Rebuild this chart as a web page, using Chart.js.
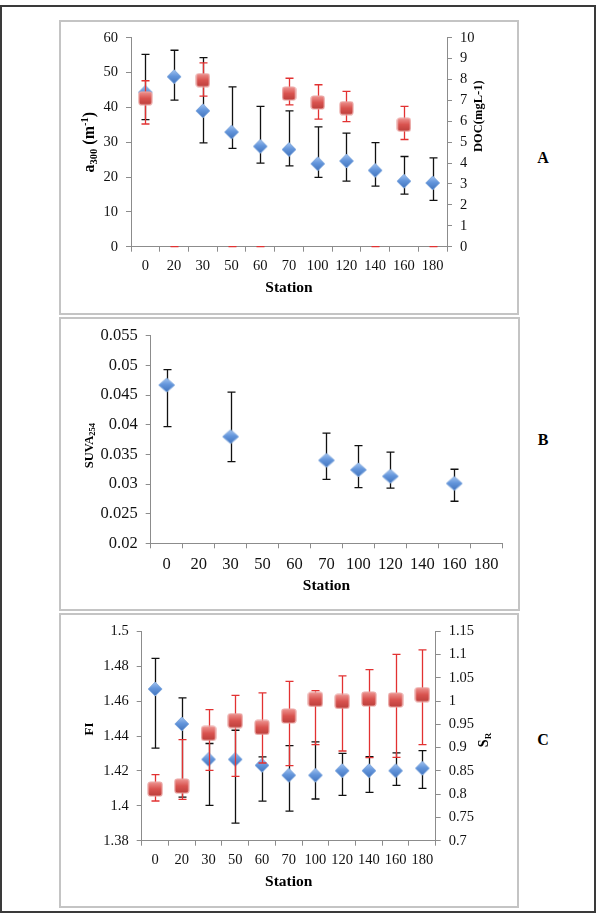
<!DOCTYPE html>
<html>
<head>
<meta charset="utf-8">
<script src="https://cdn.jsdelivr.net/npm/chart.js@4.4.1/dist/chart.umd.min.js"></script>
<style>
    body { margin: 0; background: #fff; width: 597px; height: 918px; position: relative; overflow: hidden; font-family: "Liberation Serif", serif; }
    .outer { position: absolute; left: 0; top: 5px; width: 596px; height: 908px; border: 2px solid #3a3a3a; box-sizing: border-box; }
    .panel { position: absolute; border: 2px solid #c4c4c4; box-sizing: border-box; }
    canvas { position: absolute; }
    .tag { position: absolute; font-weight: bold; font-size: 16px; transform: translate(-50%, -50%); color: #000; }
</style>
</head>
<body>
<div class="outer"></div>
<div class="panel" style="left:59px;top:20px;width:460px;height:295px"></div>
<div class="panel" style="left:59px;top:317px;width:461px;height:294px"></div>
<div class="panel" style="left:59px;top:613px;width:460px;height:295px"></div>
<canvas id="chartA" width="458" height="293" style="left:60px;top:21px"></canvas>
<canvas id="chartB" width="459" height="292" style="left:60px;top:318px"></canvas>
<canvas id="chartC" width="458" height="294" style="left:60px;top:614px"></canvas>
<div class="tag" style="left:543px;top:158px">A</div>
<div class="tag" style="left:543px;top:440px">B</div>
<div class="tag" style="left:543px;top:740px">C</div>

<script>
// station labels shared by all three panels
const stations = ["0", "20", "30", "50", "60", "70", "100", "120", "140", "160", "180"];

// Panel A: a300 (left axis) and DOC (right axis)
const a300     = [44.3, 48.8, 39.0, 32.9, 28.8, 27.9, 23.8, 24.6, 21.9, 18.8, 18.3];
const a300Low  = [36.5, 42.1, 29.8, 28.2, 24.0, 23.2, 19.9, 18.8, 17.4, 15.1, 13.3];
const a300High = [55.2, 56.4, 54.3, 45.9, 40.3, 39.0, 34.4, 32.6, 29.9, 25.9, 25.5];
const doc      = [7.1, 0, 7.97, 0, 0, 7.33, 6.9, 6.63, 0, 5.84, 0];
const docLow   = [5.87, 0, 7.2, 0, 0, 6.79, 6.1, 5.98, 0, 5.13, 0];
const docHigh  = [7.94, 0, 8.8, 0, 0, 8.06, 7.75, 7.43, 0, 6.71, 0];
const a300Ticks = [0, 10, 20, 30, 40, 50, 60];
const docTicks  = [0, 1, 2, 3, 4, 5, 6, 7, 8, 9, 10];

// Panel B: SUVA254
const suva     = [0.0467, null, 0.0380, null, null, 0.0340, 0.0324, 0.0313, null, 0.0301, null];
const suvaLow  = [0.0397, null, 0.0338, null, null, 0.0308, 0.0294, 0.0293, null, 0.0271, null];
const suvaHigh = [0.0493, null, 0.0455, null, null, 0.0386, 0.0365, 0.0354, null, 0.0325, null];
const suvaTicks = [0.02, 0.025, 0.03, 0.035, 0.04, 0.045, 0.05, 0.055];

// Panel C: FI (left axis) and SR (right axis)
const fi       = [1.4669, 1.4469, 1.4266, 1.4266, 1.4232, 1.4175, 1.4175, 1.4201, 1.4201, 1.4201, 1.4215];
const fiLow    = [1.4331, 1.4050, 1.4003, 1.3901, 1.4027, 1.3970, 1.4039, 1.4060, 1.4077, 1.4117, 1.4100];
const fiHigh   = [1.4845, 1.4618, 1.4357, 1.4433, 1.4280, 1.4345, 1.4366, 1.4301, 1.4282, 1.4303, 1.4316];
const sr       = [0.811, 0.8175, 0.9307, 0.958, 0.9436, 0.968, 1.0038, 0.9995, 1.0045, 1.0024, 1.0139];
const srLow    = [0.7853, 0.7889, 0.8512, 0.8383, 0.867, 0.8612, 0.9064, 0.8928, 0.8784, 0.8792, 0.9064];
const srHigh   = [0.8419, 0.9171, 0.9816, 1.0124, 1.0175, 1.0425, 1.0225, 1.054, 1.0676, 1.1006, 1.1099];
const fiTicks = [1.38, 1.4, 1.42, 1.44, 1.46, 1.48, 1.5];
const srTicks = [0.7, 0.75, 0.8, 0.85, 0.9, 0.95, 1, 1.05, 1.1, 1.15];

const serif = '"Liberation Serif", serif';
const axisColor = "#8c8c8c";

// excel-like shaded markers
function diamondImg(w, h) {
    const c = document.createElement("canvas");
    c.width = w + 2; c.height = h + 2;
    const g = c.getContext("2d");
    const cx = c.width / 2, cy = c.height / 2;
    g.beginPath();
    g.moveTo(cx, 1); g.lineTo(c.width - 1, cy); g.lineTo(cx, c.height - 1); g.lineTo(1, cy);
    g.closePath();
    const grad = g.createLinearGradient(0, 0, 0, c.height);
    grad.addColorStop(0, "#aecbf1");
    grad.addColorStop(0.45, "#6496dc");
    grad.addColorStop(1, "#3d6fb8");
    g.fillStyle = grad;
    g.fill();
    g.strokeStyle = "#86acdf";
    g.lineWidth = 1;
    g.stroke();
    return c;
}

function squareImg(s) {
    const c = document.createElement("canvas");
    c.width = s + 2; c.height = s + 2;
    const g = c.getContext("2d");
    g.beginPath();
    g.roundRect(1, 1, s, s, 2.5);
    const grad = g.createLinearGradient(0, 0, 0, c.height);
    grad.addColorStop(0, "#f19c99");
    grad.addColorStop(0.5, "#d9534f");
    grad.addColorStop(1, "#b83c39");
    g.fillStyle = grad;
    g.fill();
    g.strokeStyle = "#eaa5a3";
    g.lineWidth = 1.2;
    g.stroke();
    return c;
}

// error bars drawn through the dataset's own y scale
const errorBars = {
    id: "errorBars",
    beforeDatasetDraw(chart, args) {
        const ds = chart.data.datasets[args.index];
        if (!ds.errLow) return;
        const meta = args.meta;
        const ys = chart.scales[meta.yAxisID];
        const g = chart.ctx;
        g.save();
        g.strokeStyle = ds.barColor;
        g.lineWidth = 1.3;
        meta.data.forEach((pt, i) => {
            if (ds.data[i] == null) return;
            const x = Math.round(pt.x) + 0.5;
            const y1 = ys.getPixelForValue(ds.errLow[i]);
            const y2 = ys.getPixelForValue(ds.errHigh[i]);
            g.beginPath();
            g.moveTo(x, y1); g.lineTo(x, y2);
            g.moveTo(x - 4, y1); g.lineTo(x + 4, y1);
            g.moveTo(x - 4, y2); g.lineTo(x + 4, y2);
            g.stroke();
        });
        g.restore();
    }
};

// axis titles with sub/superscripts
function richTitles(items) {
    return {
        id: "richTitles",
        afterDraw(chart) {
            const g = chart.ctx, a = chart.chartArea;
            items.forEach(it => {
                let x, y;
                if (it.side === "bottom") { x = (a.left + a.right) / 2; y = a.bottom + it.off; }
                else if (it.side === "left") { x = a.left - it.off; y = (a.top + a.bottom) / 2 + (it.dy || 0); }
                else { x = a.right + it.off; y = (a.top + a.bottom) / 2 + (it.dy || 0); }
                g.save();
                g.translate(x, y);
                if (it.side !== "bottom") g.rotate(-Math.PI / 2);
                g.fillStyle = "#000";
                g.textBaseline = "middle";
                g.textAlign = "left";
                let total = 0;
                const parts = it.parts.map(p => {
                    const font = `${p.bold === false ? "" : "bold "}${p.size}px ${serif}`;
                    g.font = font;
                    const w = g.measureText(p.text).width;
                    total += w;
                    return { text: p.text, font, w, shift: p.shift || 0 };
                });
                let cx = -total / 2;
                parts.forEach(p => {
                    g.font = p.font;
                    g.fillText(p.text, cx, p.shift);
                    cx += p.w;
                });
                g.restore();
            });
        }
    };
}

function yAxis(pos, ticks, width, fontSize) {
    return {
        position: pos,
        min: ticks[0],
        max: ticks[ticks.length - 1],
        afterBuildTicks: s => { s.ticks = ticks.map(v => ({ value: v })); },
        afterFit: s => { s.width = width; },
        border: { display: true, color: axisColor, width: 1 },
        grid: { drawOnChartArea: false, drawTicks: true, tickLength: 5, color: axisColor },
        ticks: {
            padding: 8,
            color: "#111",
            font: { family: serif, size: fontSize },
            callback: v => String(+v.toFixed(3))
        }
    };
}

function xAxis(height, fontSize) {
    return {
        type: "category",
        offset: true,
        afterFit: s => { s.height = height; },
        border: { display: true, color: axisColor, width: 1 },
        grid: { offset: true, drawOnChartArea: false, drawTicks: true, tickLength: 5, color: axisColor },
        ticks: {
            padding: 6,
            color: "#111",
            maxRotation: 0,
            autoSkip: false,
            font: { family: serif, size: fontSize }
        }
    };
}

function markerSet(data, low, high, yId, img, barColor, order) {
    return {
        data,
        yAxisID: yId,
        errLow: low,
        errHigh: high,
        barColor,
        order,
        showLine: false,
        pointStyle: img,
        pointRadius: ctx => (ctx.raw === 0 ? 0 : 7),
        pointHoverRadius: 7
    };
}

const baseOpts = {
    responsive: false,
    animation: false,
    events: [],
    plugins: { legend: { display: false }, tooltip: { enabled: false } }
};

const diamond = diamondImg(14, 14);
const diamondWide = diamondImg(16, 14);
const square = squareImg(13);

// Panel A
new Chart(document.getElementById("chartA"), {
    type: "line",
    data: {
        labels: stations,
        datasets: [
            markerSet(a300, a300Low, a300High, "y", diamond, "#111", 2),
            markerSet(doc, docLow, docHigh, "y2", square, "#e23232", 1)
        ]
    },
    options: {
        ...baseOpts,
        layout: { padding: { top: 15.7, bottom: 0, left: 0, right: 0 } },
        scales: {
            x: xAxis(67.3, 14.5),
            y: yAxis("left", a300Ticks, 71, 14.5),
            y2: yAxis("right", docTicks, 71, 14.5)
        }
    },
    plugins: [errorBars, richTitles([
        { side: "bottom", off: 41, parts: [{ text: "Station", size: 15.5 }] },
        { side: "left", off: 40.7, parts: [
            { text: "a", size: 16 }, { text: "300", size: 10.5, shift: 4 },
            { text: " (m", size: 16 }, { text: "-1", size: 10.5, shift: -5 }, { text: ")", size: 16 }
        ] },
        { side: "right", off: 32, dy: -26, parts: [{ text: "DOC(mgL-1)", size: 12.5 }] }
    ])]
});

// Panel B
new Chart(document.getElementById("chartB"), {
    type: "line",
    data: {
        labels: stations,
        datasets: [markerSet(suva, suvaLow, suvaHigh, "y", diamondWide, "#111", 1)]
    },
    options: {
        ...baseOpts,
        layout: { padding: { top: 16, bottom: 0, left: 0, right: 16.8 } },
        scales: {
            x: xAxis(66.7, 16.5),
            y: yAxis("left", suvaTicks, 90.7, 16.5)
        }
    },
    plugins: [errorBars, richTitles([
        { side: "bottom", off: 42.8, parts: [{ text: "Station", size: 15.5 }] },
        { side: "left", off: 61.4, dy: 6, parts: [
            { text: "SUVA", size: 12.5 }, { text: "254", size: 8.5, shift: 3 }
        ] }
    ])]
});

// Panel C
new Chart(document.getElementById("chartC"), {
    type: "line",
    data: {
        labels: stations,
        datasets: [
            markerSet(fi, fiLow, fiHigh, "y", diamond, "#111", 2),
            markerSet(sr, srLow, srHigh, "y2", squareImg(14), "#e23232", 1)
        ]
    },
    options: {
        ...baseOpts,
        layout: { padding: { top: 17.3, bottom: 0, left: 0, right: 0 } },
        scales: {
            x: xAxis(67.3, 14.5),
            y: yAxis("left", fiTicks, 81.7, 14.5),
            y2: yAxis("right", srTicks, 82.3, 14.5)
        }
    },
    plugins: [errorBars, richTitles([
        { side: "bottom", off: 41, parts: [{ text: "Station", size: 15.5 }] },
        { side: "left", off: 51.7, dy: -7, parts: [{ text: "FI", size: 13 }] },
        { side: "right", off: 49, dy: 4, parts: [
            { text: "S", size: 14 }, { text: "R", size: 9, shift: 4 }
        ] }
    ])]
});
</script>
</body>
</html>
